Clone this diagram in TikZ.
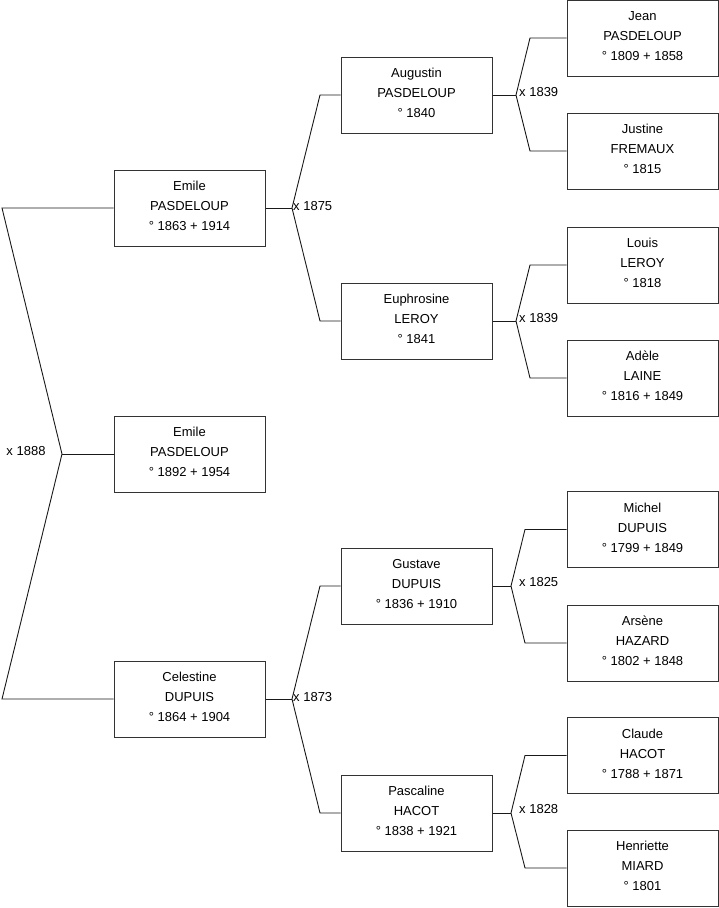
\documentclass[tikz,border=0pt]{standalone}
\usepackage{fontspec}
\setmainfont{Liberation Sans}
\begin{document}
\begin{tikzpicture}[x=1pt,y=-1pt,
  person/.style={draw=black!80, line width=1pt, fill=white, minimum width=151pt, minimum height=76pt,
    inner sep=0pt, align=center, font=\fontsize{13}{20}\selectfont,
    execute at end node={\rule[-4pt]{0pt}{0pt}}},
  link/.style={draw=black!90, line width=0.9pt},
  mar/.style={inner sep=1pt, font=\fontsize{13}{15}\selectfont}]
\useasboundingbox (0,0) rectangle (719,908);
% column 1
\node[person] (e1) at (189.5,208) {Emile\\PASDELOUP\\° 1863 + 1914};
\node[person] (e2) at (189.5,454) {Emile\\PASDELOUP\\° 1892 + 1954};
\node[person] (ce) at (189.5,699) {Celestine\\DUPUIS\\° 1864 + 1904};
% column 2
\node[person] (au) at (416.5,95) {Augustin\\PASDELOUP\\° 1840};
\node[person] (eu) at (416.5,321) {Euphrosine\\LEROY\\° 1841};
\node[person] (gu) at (416.5,586) {Gustave\\DUPUIS\\° 1836 + 1910};
\node[person] (pa) at (416.5,813) {Pascaline\\HACOT\\° 1838 + 1921};
% column 3
\node[person] (je) at (642.5,38) {Jean\\PASDELOUP\\° 1809 + 1858};
\node[person] (ju) at (642.5,151) {Justine\\FREMAUX\\° 1815};
\node[person] (lo) at (642.5,265) {Louis\\LEROY\\° 1818};
\node[person] (ad) at (642.5,378) {Adèle\\LAINE\\° 1816 + 1849};
\node[person] (mi) at (642.5,529.5) {Michel\\DUPUIS\\° 1799 + 1849};
\node[person] (ar) at (642.5,643) {Arsène\\HAZARD\\° 1802 + 1848};
\node[person] (cl) at (642.5,755.5) {Claude\\HACOT\\° 1788 + 1871};
\node[person] (he) at (642.5,868) {Henriette\\MIARD\\° 1801};
% root marriage
\coordinate (j0) at (62,454);
\coordinate (t0) at (2,208);
\coordinate (b0) at (2,699);
\draw[link] (e1.west) -- (t0) -- (j0) -- (b0) -- (ce.west);
\draw[link] (j0) -- (e2.west);
\node[mar] (m0) at (26,451) {x 1888};
% 1875
\coordinate (j1) at (292,208);
\draw[link] (e1.east) -- (j1);
\draw[link] (au.west) -- (320,95) -- (j1) -- (320,321) -- (eu.west);
\node[mar, anchor=west] (m1) at (292,206) {x 1875};
% 1873
\coordinate (j2) at (292,699);
\draw[link] (ce.east) -- (j2);
\draw[link] (gu.west) -- (320,586) -- (j2) -- (320,813) -- (pa.west);
\node[mar, anchor=west] (m2) at (292,697) {x 1873};
% 1839 (Augustin)
\coordinate (j3) at (516,95);
\draw[link] (au.east) -- (j3);
\draw[link] (je.west) -- (530,38) -- (j3) -- (530,151) -- (ju.west);
\node[mar, anchor=west] (m3) at (518,92) {x 1839};
% 1839 (Euphrosine)
\coordinate (j4) at (516,321);
\draw[link] (eu.east) -- (j4);
\draw[link] (lo.west) -- (530,265) -- (j4) -- (530,378) -- (ad.west);
\node[mar, anchor=west] (m4) at (518,318) {x 1839};
% 1825
\coordinate (j5) at (511,586);
\draw[link] (gu.east) -- (j5);
\draw[link] (mi.west) -- (525,529.5) -- (j5) -- (525,643) -- (ar.west);
\node[mar, anchor=west] (m5) at (518,582) {x 1825};
% 1828
\coordinate (j6) at (511,813);
\draw[link] (pa.east) -- (j6);
\draw[link] (cl.west) -- (525,755.5) -- (j6) -- (525,868) -- (he.west);
\node[mar, anchor=west] (m6) at (518,809) {x 1828};
\end{tikzpicture}
\end{document}
